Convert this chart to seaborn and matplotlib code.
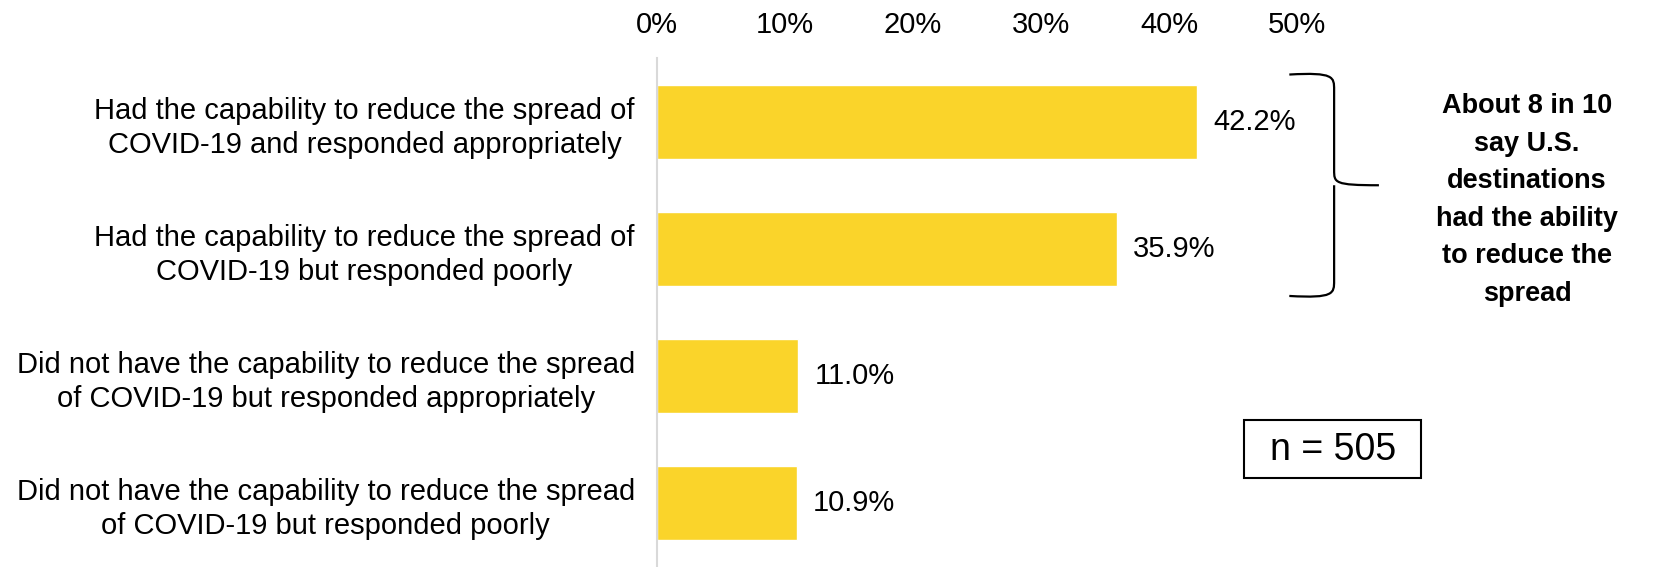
import matplotlib
matplotlib.use("Agg")
import matplotlib.pyplot as plt
from matplotlib.path import Path
from matplotlib.patches import PathPatch, Rectangle
import seaborn as sns

CATEGORIES = [
    "Had the capability to reduce the spread of\nCOVID-19 and responded appropriately",
    "Had the capability to reduce the spread of\nCOVID-19 but responded poorly",
    "Did not have the capability to reduce the spread\nof COVID-19 but responded appropriately",
    "Did not have the capability to reduce the spread\nof COVID-19 but responded poorly",
]
VALUES = [42.2, 35.9, 11.0, 10.9]
XTICKS = [0, 10, 20, 30, 40, 50]
NOTE = "About 8 in 10\nsay U.S.\ndestinations\nhad the ability\nto reduce the\nspread"
SAMPLE = "n = 505"

BAR_COLOR = "#FAD42A"
FS = 21

sns.set_theme(style="white")
plt.rcParams["font.family"] = ["Liberation Sans", "DejaVu Sans"]
plt.rcParams["text.color"] = "black"
plt.rcParams["xtick.color"] = "black"
plt.rcParams["ytick.color"] = "black"

fig = plt.figure(figsize=(16.57, 5.67), dpi=100)
ax = fig.add_axes([657 / 1657, 0.0, (1297 - 657) / 1657, 1 - 58 / 567])

sns.barplot(x=VALUES, y=CATEGORIES, color=BAR_COLOR, width=0.58, orient="h",
            saturation=1, ax=ax)

ax.set_xlim(0, 50)
ax.set_ylim(3.5, -0.5)
ax.set_xticks(XTICKS)
ax.set_xticklabels([f"{t}%" for t in XTICKS])
ax.xaxis.tick_top()
ax.tick_params(axis="x", length=0, pad=14, labelsize=FS)
ax.tick_params(axis="y", length=0, pad=16, labelsize=FS)
for lbl in ax.get_yticklabels():
    lbl.set_multialignment("center")
    lbl.set_linespacing(1.27)
ax.set_xlabel("")
ax.set_ylabel("")

for side in ["top", "right", "bottom"]:
    ax.spines[side].set_visible(False)
ax.spines["left"].set_color("#d9d9d9")
ax.spines["left"].set_linewidth(1.5)

ax.bar_label(ax.containers[0], labels=[f"{v:.1f}%" for v in VALUES],
             padding=12, fontsize=FS, color="black")

# curly brace grouping the first two bars
y0, y1 = -0.37, 1.37
ym = (y0 + y1) / 2
xa, xb, xc = 49.4, 52.9, 56.4
verts = [
    (xa, y0), (xb, y0 - 0.02), (xb, y0 + 0.02), (xb, y0 + 0.12),
    (xb, ym - 0.12),
    (xb, ym - 0.02), (xb, ym), (xc, ym),
    (xb, ym), (xb, ym + 0.02), (xb, ym + 0.12),
    (xb, y1 - 0.12),
    (xb, y1 - 0.02), (xb, y1 + 0.02), (xa, y1),
]
codes = [Path.MOVETO, Path.CURVE4, Path.CURVE4, Path.CURVE4,
         Path.LINETO,
         Path.CURVE4, Path.CURVE4, Path.CURVE4,
         Path.MOVETO, Path.CURVE4, Path.CURVE4,
         Path.LINETO,
         Path.CURVE4, Path.CURVE4, Path.CURVE4]
ax.add_patch(PathPatch(Path(verts, codes), fill=False, lw=1.6, color="black",
                       clip_on=False))

ax.text(1527 / 1657, 1 - 200 / 567, NOTE, transform=fig.transFigure,
        ha="center", va="center", fontsize=19.5, fontweight="bold",
        linespacing=1.58)

# sample-size box
fig.patches.append(Rectangle((1244 / 1657, 1 - 478 / 567), 177 / 1657, 58 / 567,
                             transform=fig.transFigure, fill=False,
                             ec="black", lw=1.5))
fig.text(1333 / 1657, 1 - 450 / 567, SAMPLE, ha="center", va="center",
         fontsize=27)

fig.savefig("out.png", dpi=100)
